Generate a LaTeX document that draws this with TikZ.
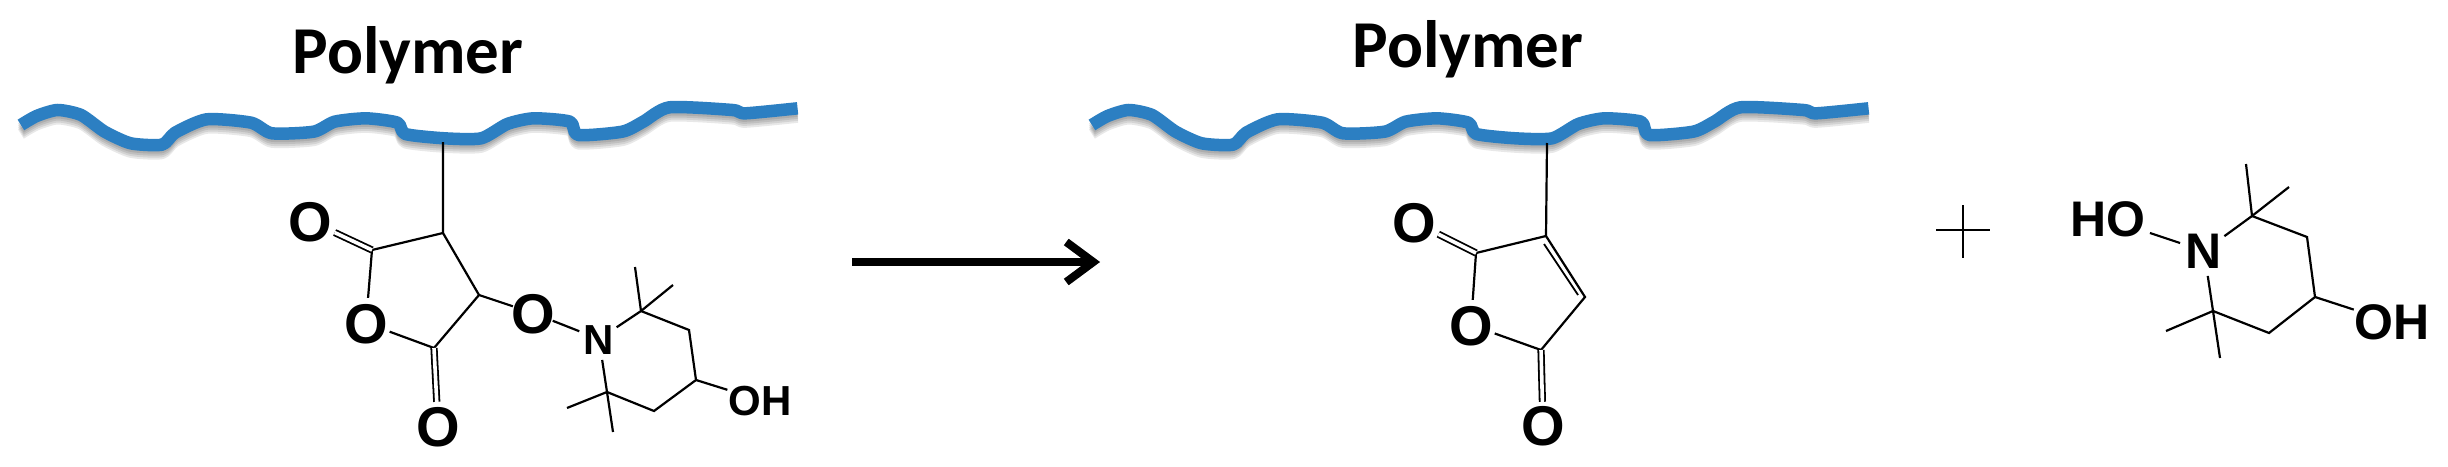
\documentclass[tikz,border=0pt]{standalone}
\usepackage{fontspec}
\setmainfont{Liberation Sans}
\newfontfamily\polyfont{Carlito}
\usetikzlibrary{arrows.meta}
\newcommand{\atm}[1]{\makebox[0pt]{\smash{\raisebox{-.358em}{\bfseries #1}}}}
\newcommand{\chainpath}{plot[smooth,tension=.4] coordinates{(40,375)(70,348)(110,330)(155,345)(200,395)(250,430)(310,434)(335,398)(395,358)(480,368)(520,400)(600,395)(640,365)(700,355)(760,368)(775,402)(850,415)(920,415)(970,372)(1020,355)(1090,365)(1105,405)(1190,395)(1230,365)(1280,322)(1400,330)(1425,340)(1525,325)}}
\tikzset{
  x=1pt,y=-1pt,
  bond/.style={draw=black,line width=2.2pt},
  dbond/.style={draw=black,line width=1.8pt,double=white,double distance=3.6pt},
  atom/.style={circle,inner sep=0pt,minimum size=#1},
  bigfont/.style={font=\fontsize{56}{56}\selectfont},
  midfont/.style={font=\fontsize{42}{42}\selectfont},
  rfont/.style={font=\fontsize{50}{50}\selectfont},
  polytext/.style={font=\polyfont\bfseries\fontsize{67}{67}\selectfont,inner sep=0pt,anchor=base},
  chainline/.style={draw=chainblue,line width=12.5pt,line join=round},
  chainshadow/.style={draw=black,opacity=.09,line width=11pt,line join=round},
  chainscope/.style={x=.523pt,y=-.3333pt}
}
\definecolor{chainblue}{HTML}{2C7FC2}
\begin{document}
\begin{tikzpicture}
\useasboundingbox[fill=white] (0,0) rectangle (2448,466);
% polymer chains
\foreach \sx in {0,1071}{
  \begin{scope}[shift={(\sx pt,0pt)},chainscope]
    \foreach \d in {3,5,7,9}{
      \path[chainshadow,yshift=-\d pt] \chainpath;
    }
    \path[chainline] \chainpath;
  \end{scope}
}
\node[polytext] (p1) at (408,73) {Polymer};
\node[polytext] (p2) at (1468,67) {Polymer};
% left molecule
\coordinate (La) at (443,142);
\coordinate (L3) at (443,233);
\coordinate (L2) at (372,250);
\coordinate (L5) at (434,348);
\coordinate (L4) at (479,295);
\coordinate (Lc1) at (641,311);
\coordinate (Lm1) at (635,267);
\coordinate (Lm2) at (673,285);
\coordinate (Lc2) at (689,330);
\coordinate (Lc3) at (696,380);
\coordinate (Lc4) at (654,411);
\coordinate (Lc5) at (607,392);
\coordinate (Lm3) at (567,408);
\coordinate (Lm4) at (613,432);
\node[atom=54pt,bigfont] (LO1) at (310,221) {\atm{O}};
\node[atom=50pt,bigfont] (LO2) at (366,323) {\atm{O}};
\node[atom=48pt,bigfont] (LO3) at (438,426) {\atm{O}};
\node[atom=42pt,bigfont] (LO4) at (533,313) {\atm{O}};
\node[atom=42pt,midfont] (LN) at (599,339) {\atm{N}};
\node[atom=68pt,midfont] (LOH) at (760,400) {\atm{OH}};
\path[bond] (La) -- (L3) -- (L2) (L3) -- (L4) -- (L5);
\path[bond] (L2) -- (LO2);
\path[bond] (L5) -- (LO2);
\path[dbond] (L2) -- (LO1);
\path[dbond] (L5) -- (LO3);
\path[bond] (L4) -- (LO4);
\path[bond] (LO4) -- (LN);
\path[bond] (LN) -- (Lc1);
\path[bond] (LN) -- (Lc5);
\path[bond] (Lc1) -- (Lc2) -- (Lc3) -- (Lc4) -- (Lc5);
\path[bond] (Lc1) -- (Lm1) (Lc1) -- (Lm2);
\path[bond] (Lc5) -- (Lm3) (Lc5) -- (Lm4);
\path[bond] (Lc3) -- (LOH);
% arrow
\coordinate (A1) at (852,262);
\coordinate (A2) at (1100,262);
\foreach \d in {3,5,7}{
  \draw[black,opacity=.1,line width=8pt,-{Straight Barb[length=27pt,width=40pt,line width=8pt]},yshift=-\d pt] (A1) -- (A2);
}
\draw[black,line width=8pt,-{Straight Barb[length=27pt,width=40pt,line width=8pt]}] (A1) -- (A2);
% middle molecule
\coordinate (Ra) at (1547,143);
\coordinate (R3) at (1546,236);
\coordinate (R2) at (1476,253);
\coordinate (R4) at (1585,297);
\coordinate (R5) at (1541,350);
\coordinate (R3i) at (1544,244);
\coordinate (R4i) at (1578,295);
\node[atom=54pt,bigfont] (RO1) at (1414,222) {\atm{O}};
\node[atom=50pt,bigfont] (RO2) at (1471,325) {\atm{O}};
\node[atom=46pt,bigfont] (RO3) at (1543,425) {\atm{O}};
\path[bond] (Ra) -- (R3) -- (R2) (R3) -- (R4) -- (R5);
\path[bond,line width=1.8pt] (R3i) -- (R4i);
\path[bond] (R2) -- (RO2);
\path[bond] (R5) -- (RO2);
\path[dbond] (R2) -- (RO1);
\path[dbond] (R5) -- (RO3);
% plus
\coordinate (Pl) at (1936,230);
\coordinate (Pr) at (1990,230);
\coordinate (Pt) at (1963,205);
\coordinate (Pb) at (1963,258);
\path[bond] (Pl) -- (Pr) (Pt) -- (Pb);
% right molecule
\coordinate (Tc1) at (2252,216);
\coordinate (Tm1) at (2246,164);
\coordinate (Tm2) at (2289,187);
\coordinate (Tc2) at (2307,237);
\coordinate (Tc3) at (2315,297);
\coordinate (Tc4) at (2269,333);
\coordinate (Tc5) at (2213,311);
\coordinate (Tm3) at (2166,331);
\coordinate (Tm4) at (2220,358);
\node[atom=88pt,rfont] (THO) at (2108,219) {\atm{HO}};
\node[atom=50pt,rfont] (TN) at (2204,251) {\atm{N}};
\node[atom=80pt,rfont] (TOH) at (2392,322) {\atm{OH}};
\path[bond] (THO) -- (TN);
\path[bond] (TN) -- (Tc1);
\path[bond] (TN) -- (Tc5);
\path[bond] (Tc1) -- (Tc2) -- (Tc3) -- (Tc4) -- (Tc5);
\path[bond] (Tc1) -- (Tm1) (Tc1) -- (Tm2);
\path[bond] (Tc5) -- (Tm3) (Tc5) -- (Tm4);
\path[bond] (Tc3) -- (TOH);
\end{tikzpicture}
\end{document}
